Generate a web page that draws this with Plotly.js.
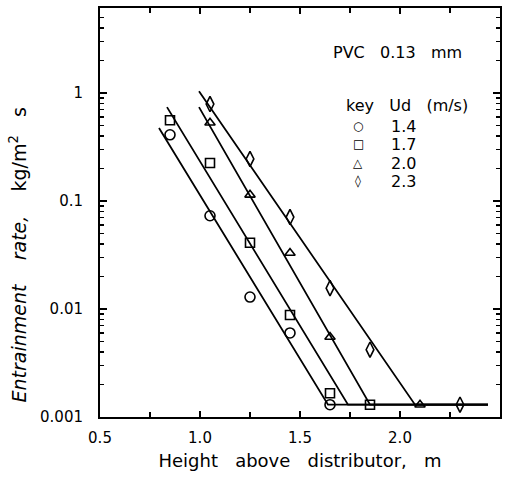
<!DOCTYPE html>
<html>
<head>
<meta charset="utf-8">
<script src="https://cdn.plot.ly/plotly-3.0.1.min.js"></script>
<style>html,body{margin:0;padding:0;background:#fff;}#chart{width:511px;height:483px;}</style>
</head>
<body>
<div id="chart"></div>
<script>
// Measured points (height above distributor, m ; entrainment rate, kg/m2 s)
const seriesNames = ["1.4", "1.7", "2.0", "2.3"];
const symbols = ["circle-open", "square-open", "triangle-up-open", "diamond-tall-open"];
const keyGlyphs = ["\u25CB", "\u25A1", "\u25B3", "\u25CA"];
const markerSizes = [10, 9, 9, 11];

const x14 = [0.85, 1.05, 1.25, 1.45, 1.65];
const y14 = [0.41, 0.073, 0.0129, 0.006, 0.0013];

const x17 = [0.85, 1.05, 1.25, 1.45, 1.65, 1.85];
const y17 = [0.56, 0.225, 0.041, 0.0088, 0.00166, 0.0013];

const x20 = [1.05, 1.25, 1.45, 1.65, 2.1];
const y20 = [0.53, 0.114, 0.033, 0.0055, 0.0013];

const x23 = [1.05, 1.25, 1.45, 1.65, 1.85, 2.3];
const y23 = [0.79, 0.245, 0.071, 0.0156, 0.0042, 0.0013];

// Fitted lines (start, bend to floor, end of floor)
const fitX14 = [0.795, 1.64, 2.44];
const fitY14 = [0.474, 0.0013, 0.0013];
const fitX17 = [0.835, 1.74, 2.44];
const fitY17 = [0.74, 0.0013, 0.0013];
const fitX20 = [0.995, 1.85, 2.44];
const fitY20 = [0.74, 0.0013, 0.0013];
const fitX23 = [0.995, 2.075, 2.44];
const fitY23 = [1.04, 0.0013, 0.0013];

// Tick labels
const xTickVals = [0.5, 1.0, 1.5, 2.0, 2.5];
const xTickText = ["0.5", "1.0", "1.5", "2.0", "2.5"];
const xMinorVals = [0.75, 1.25, 1.75, 2.25];
const yTickVals = [0.001, 0.01, 0.1, 1];
const yTickText = ["0.001", "0.01", "0.1", "1"];
const yMinorMult = [2, 3, 4, 5, 6, 7, 8, 9];
const yDecades = [0.001, 0.01, 0.1, 1];

const yMinorVals = [];
yDecades.forEach(d => yMinorMult.forEach(m => { if (d * m < 6.1) yMinorVals.push(d * m); }));

const ptsX = [x14, x17, x20, x23];
const ptsY = [y14, y17, y20, y23];
const fitsX = [fitX14, fitX17, fitX20, fitX23];
const fitsY = [fitY14, fitY17, fitY20, fitY23];

const font = "DejaVu Sans, sans-serif";
const traces = [];
for (let i = 0; i < 4; i++) {
  traces.push({
    x: fitsX[i], y: fitsY[i], mode: "lines", type: "scatter",
    line: {color: "#000", width: 1.8}, showlegend: false, hoverinfo: "skip"
  });
}
for (let i = 0; i < 4; i++) {
  traces.push({
    x: ptsX[i], y: ptsY[i], mode: "markers", type: "scatter",
    name: seriesNames[i], showlegend: false,
    marker: {symbol: symbols[i], size: markerSizes[i], color: "#000", line: {color: "#000", width: 1.6}},
    cliponaxis: false
  });
}

const nb = "\u00a0";
const sp = n => nb.repeat(n);

// Key (legend) drawn as annotations
const keyRowY = [0.711, 0.667, 0.621, 0.577];
const annotations = [
  {xref: "paper", yref: "paper", x: -0.205, y: 0.395, textangle: -90, showarrow: false,
   xanchor: "center", yanchor: "middle",
   text: "<i>Entrainment" + sp(4) + "rate,</i>" + sp(4) + "kg/m<sup>2</sup>" + sp(3) + "s",
   font: {family: font, size: 19, color: "#000"}},
  {xref: "paper", yref: "paper", x: 0.578, y: 0.89, showarrow: false,
   xanchor: "left", yanchor: "middle",
   text: "PVC" + sp(3) + "0.13" + sp(3) + "mm",
   font: {family: font, size: 16, color: "#000"}},
  {xref: "paper", yref: "paper", x: 0.61, y: 0.762, showarrow: false,
   xanchor: "left", yanchor: "middle",
   text: "key" + sp(3) + "Ud" + sp(3) + "(m/s)",
   font: {family: font, size: 16, color: "#000"}}
];
for (let i = 0; i < 4; i++) {
  annotations.push({xref: "paper", yref: "paper", x: 0.645, y: keyRowY[i], showarrow: false,
    xanchor: "center", yanchor: "middle", text: "<b>" + keyGlyphs[i] + "</b>",
    font: {family: font, size: 12, color: "#000"}});
  annotations.push({xref: "paper", yref: "paper", x: 0.722, y: keyRowY[i], showarrow: false,
    xanchor: "left", yanchor: "middle", text: seriesNames[i],
    font: {family: font, size: 16, color: "#000"}});
}

const layout = {
  width: 511, height: 483,
  margin: {l: 100, r: 11, t: 8, b: 66},
  paper_bgcolor: "#fff", plot_bgcolor: "#fff",
  font: {family: font, size: 15, color: "#000"},
  showlegend: false,
  xaxis: {
    range: [0.5, 2.5], showgrid: false, zeroline: false,
    showline: true, linecolor: "#000", linewidth: 2, mirror: "ticks",
    ticks: "inside", ticklen: 6, tickwidth: 1.5, tickcolor: "#000",
    tickmode: "array", tickvals: xTickVals, ticktext: xTickText,
    ticklabelstandoff: 6,
    minor: {tickmode: "array", tickvals: xMinorVals, ticks: "inside", ticklen: 5, tickwidth: 1.5, tickcolor: "#000"},
    title: {text: "Height" + sp(3) + "above" + sp(3) + "distributor," + sp(3) + "m", font: {family: font, size: 18, color: "#000"}, standoff: 8}
  },
  yaxis: {
    type: "log", range: [-3, 0.787], showgrid: false, zeroline: false,
    showline: true, linecolor: "#000", linewidth: 2, mirror: "ticks",
    ticks: "inside", ticklen: 7, tickwidth: 1.5, tickcolor: "#000",
    tickmode: "array", tickvals: yTickVals, ticktext: yTickText,
    ticklabelstandoff: 12,
    minor: {tickmode: "array", tickvals: yMinorVals, ticks: "inside", ticklen: 4, tickwidth: 1.5, tickcolor: "#000"}
  },
  annotations: annotations
};

Plotly.newPlot("chart", traces, layout, {displayModeBar: false, staticPlot: true});
</script>
</body>
</html>
